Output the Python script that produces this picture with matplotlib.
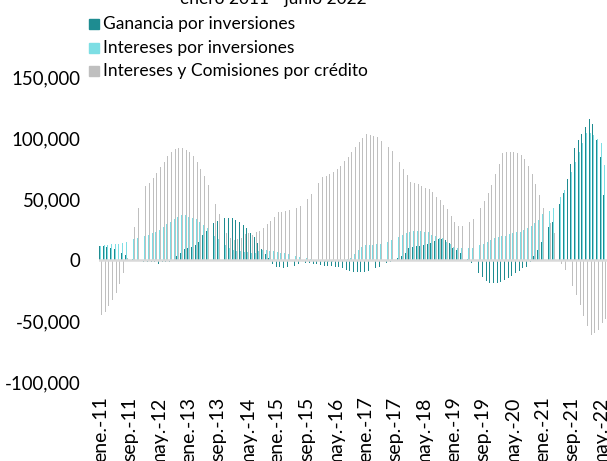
import matplotlib.pyplot as plt
import numpy as np
from matplotlib.patches import Rectangle
from matplotlib.ticker import FuncFormatter

plt.rcParams['font.family'] = ['Lato', 'DejaVu Sans']

# Monthly values in thousands, January 2011 - June 2022 (one row per year)
ganancia_inv = [
    11.5, 11.5, 10.4, 9.6, 8.7, 7.4, 5.5, 4, 2.2, 0.5, 0.3, -1,
    -1.5, -1.5, -2, -2, -3.5, -2, -2, -1.5, -0.5, 3.3, 6, 9,
    9.6, 11, 12.3, 15, 20.5, 23.8, 27.3, 30, 32, 33.6, 34.2, 34.7,
    34.2, 32.8, 31, 28.7, 26, 22.4, 19, 14, 9, 5, 1.5, -3,
    -5.5, -6, -6.2, -6, -5.5, -4.6, -3.5, -2.7, -2.7, -2.7, -3.3, -3.5,
    -4, -4.6, -4.6, -4.6, -5.5, -6, -6.8, -8.2, -9, -9.6, -9.6, -9.6,
    -9.6, -9, -8.2, -6.8, -5.5, -4, -2.7, -1.4, -0.3, 1.4, 3.3, 6,
    9.6, 10.9, 11.8, 11.8, 12, 12.8, 14.2, 15.8, 16.9, 16.9, 16.4, 13.7,
    10.1, 8.2, 6, 3.3, 0.5, -2.7, -6.8, -10.9, -13.7, -17, -18.6, -19.1,
    -19.1, -17.8, -16.4, -15, -13.1, -10.9, -9, -6.8, -5.5, -2, 3, 8.2,
    15, 21.9, 27.3, 31.4, 38.3, 45.9, 54.6, 66.4, 78.7, 91.5, 98.4, 103,
    109, 115.5, 111.5, 98, 84.7, 53,
]
intereses_inv = [
    11.5, 12, 12.5, 13, 13, 13.5, 14, 15, 16.4, 17, 18, 18.6,
    19.5, 20.5, 21.8, 23.2, 25, 27, 29.5, 31.5, 33.8, 35.5, 36.6, 36.6,
    35.5, 34.7, 33.8, 31.5, 29, 26.5, 23, 20, 17, 14.5, 12, 10,
    8.5, 7.5, 7, 6.5, 6.5, 6, 6, 7, 8, 8, 7.5, 7,
    6.5, 6, 5.5, 5, 4, 3, 2.5, 2, 1.5, 1, 0.5, 0.3,
    -1, -1.5, -1.5, -1.5, -1, -0.5, 0.3, 1, 1.4, 5, 8, 11,
    12, 12, 12.3, 12.8, 13, 13.6, 15, 16.4, 17.8, 19, 20.5, 22,
    23, 23.8, 23.8, 23.6, 23.2, 22.6, 20.5, 19.5, 18, 17.8, 15, 13,
    11, 9.6, 9.6, 9.6, 9.6, 10, 11, 12.3, 13, 15, 16.4, 17.8,
    19, 19.5, 20, 21, 22, 22.6, 23.2, 24.6, 26, 27.9, 30, 32.8,
    37.7, 38.8, 40.4, 42.4, 46.4, 51.9, 57.4, 64.2, 72.4, 80.6, 88.8, 96.2,
    103.8, 104.4, 102.5, 99, 95.7, 78,
]
intereses_credito = [
    -45, -43, -38, -33, -27, -20, -11, 2, 12, 27, 43, 60,
    61, 63, 67, 71.5, 76.5, 80.6, 85, 88.8, 91, 92, 92, 90,
    88.8, 85.5, 80.6, 75, 68.8, 61.5, 53.8, 45.6, 38, 32.8, 22, 18,
    16, 17, 18, 21, 22, 20.5, 23, 24, 26.5, 29.5, 32, 35.5,
    39, 39.6, 40, 41, 41.8, 43, 44, 47, 50, 54, 58, 63,
    67.7, 68.8, 70.5, 72.4, 74.3, 77.3, 81, 84.7, 88.8, 93, 96.5, 100.3,
    103.3, 102.5, 102, 100.5, 97.8, 95, 92.3, 89.3, 85.2, 80.6, 75, 69.7,
    64.2, 63.4, 62.3, 60.7, 59, 58, 55.5, 52, 49, 45, 41.5, 36,
    31.4, 28, 28, 29, 31, 34, 37.7, 42.3, 48.4, 54.6, 61.5, 70.5,
    78.7, 87.4, 88.2, 88.5, 88.2, 88, 86, 82.5, 77, 70.5, 62.3, 53.3,
    42.4, 35.5, 30, 22, 13.7, -3, -8, -14, -21, -29, -37, -46,
    -54, -61.5, -60, -57, -52, -48,
]

tick_labels = ['ene.-11', 'sep.-11', 'may.-12', 'ene.-13', 'sep.-13', 'may.-14',
               'ene.-15', 'sep.-15', 'may.-16', 'ene.-17', 'sep.-17', 'may.-18',
               'ene.-19', 'sep.-19', 'may.-20', 'ene.-21', 'sep.-21', 'may.-22']
tick_step = 8

series = [ganancia_inv, intereses_inv, intereses_credito]
names = ['Ganancia por inversiones', 'Intereses por inversiones',
         'Intereses y Comisiones por crédito']
colors = ['#1E8C91', '#7DDEE4', '#BFBFBF']

W, H = 607, 461
fig = plt.figure(figsize=(W / 100, H / 100), dpi=100)
ax = fig.add_axes([98.7 / W, 1 - 382 / H, 508 / W, 305 / H])

x = np.arange(len(ganancia_inv))
bw = 0.27
for i, (vals, col) in enumerate(zip(series, colors)):
    ax.bar(x + (i - 1) * bw, np.array(vals) * 1000, width=bw * 0.9,
           color=col, linewidth=0)

ax.axhline(0, color='#D9D9D9', lw=1.8, zorder=3)

ax.set_xlim(-0.5, len(x) - 0.5)
ax.set_ylim(-100000, 150000)
ax.set_yticks(np.arange(-100000, 150001, 50000))
ax.yaxis.set_major_formatter(FuncFormatter(lambda v, p: f'{v:,.0f}'))
ax.set_xticks(x[::tick_step])
ax.set_xticklabels(tick_labels, rotation=90)
ax.tick_params(axis='y', length=0, pad=13, labelsize=13.4, colors='#000000')
ax.tick_params(axis='x', length=0, pad=10.5, labelsize=14)
for s in ax.spines.values():
    s.set_visible(False)

# legend drawn in pixel coordinates at the upper left
for i, (name, col) in enumerate(zip(names, colors)):
    yc = H - (24 + i * 23.7)
    fig.patches.append(Rectangle((89 / W, (yc - 5) / H), 10 / W, 10 / H,
                                 transform=fig.transFigure, color=col))
    fig.text(103 / W, yc / H, name, ha='left', va='center', fontsize=12.5)

fig.text(273 / W, 1 - 4 / H, 'enero 2011 - junio 2022', ha='center',
         va='baseline', fontsize=12.5)

fig.savefig('out.png', dpi=100)
